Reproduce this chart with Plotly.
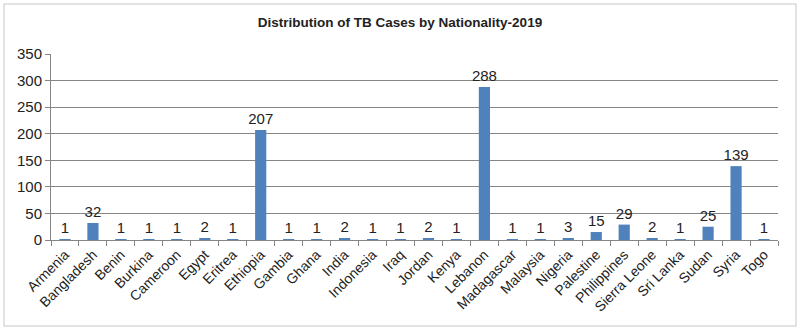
import plotly.graph_objects as go

countries = ["Armenia", "Bangladesh", "Benin", "Burkina", "Cameroon", "Egypt", "Eritrea",
             "Ethiopia", "Gambia", "Ghana", "India", "Indonesia", "Iraq", "Jordan", "Kenya",
             "Lebanon", "Madagascar", "Malaysia", "Nigeria", "Palestine", "Philippines",
             "Sierra Leone", "Sri Lanka", "Sudan", "Syria", "Togo"]
cases = [1, 32, 1, 1, 1, 2, 1, 207, 1, 1, 2, 1, 1, 2, 1, 288, 1, 1, 3, 15, 29, 2, 1, 25, 139, 1]
y_ticks = [0, 50, 100, 150, 200, 250, 300, 350]

W, H = 800, 332
L, R, T, B = 51, 22, 54, 92
pw, ph = W - L - R, H - T - B

fig = go.Figure(go.Bar(
    x=countries, y=cases, text=cases, textposition="outside",
    constraintext="none",
    marker=dict(color="#4F81BD", line=dict(width=0)),
    textfont=dict(family="Liberation Sans", size=15, color="#222"),
    cliponaxis=False,
))

def px_x(p):
    return (p - L) / pw

def px_y(p):
    return (H - B - p) / ph

fig.update_layout(
    width=W, height=H,
    margin=dict(l=L, r=R, t=T, b=B),
    paper_bgcolor="white", plot_bgcolor="white",
    bargap=0.6,
    showlegend=False,
    uniformtext=dict(minsize=14, mode="show"),
    title=dict(text="<b>Distribution of TB Cases by Nationality-2019</b>",
               x=0.5, xanchor="center", y=1 - 22 / H, yanchor="middle",
               font=dict(family="Liberation Sans", size=13.5, color="#222")),
    font=dict(family="Liberation Sans", size=13, color="#222"),
    xaxis=dict(tickangle=-45, showline=True, linecolor="#868686", linewidth=1,
               ticks="outside", ticklen=5, tickcolor="#868686", showgrid=False,
               tickson="boundaries", tickfont=dict(size=14)),
    yaxis=dict(range=[0, 350], tickvals=y_ticks, showline=True, linecolor="#868686",
               linewidth=1, ticks="outside", ticklen=5, tickcolor="#868686",
               gridcolor="#868686", gridwidth=1, zeroline=False,
               tickfont=dict(size=15)),
    shapes=[dict(type="rect", xref="paper", yref="paper",
                 x0=px_x(4), x1=px_x(796), y0=px_y(326), y1=px_y(4),
                 line=dict(color="#D9D9D9", width=1.5), fillcolor="rgba(0,0,0,0)",
                 layer="below")],
)

fig.write_html("out.html")
